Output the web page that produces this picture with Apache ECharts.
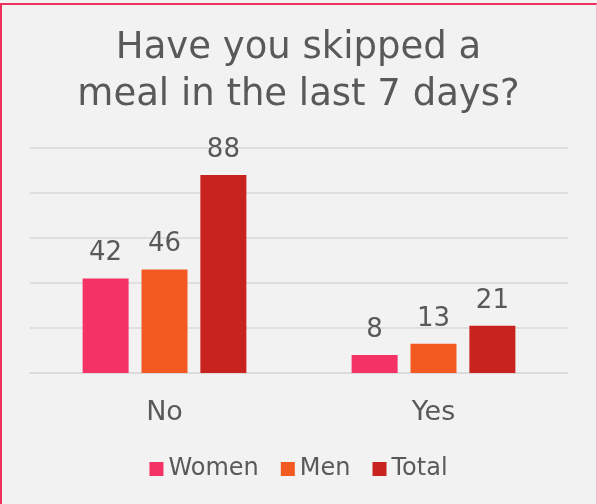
<!DOCTYPE html>
<html>
<head>
<meta charset="utf-8">
<script src="https://cdn.jsdelivr.net/npm/echarts@6/dist/echarts.min.js"></script>
<style>
  html, body { margin: 0; padding: 0; background: #f2f2f2; }
  #frame {
    position: absolute; left: 0; top: 3px; width: 597px; height: 501px;
    border-top: 2px solid #f0305e; border-left: 2px solid #f0305e;
    border-right: 1px solid #f3b8cc; box-sizing: border-box;
  }
  #chart { position: absolute; left: 0; top: 0; width: 597px; height: 504px; }
</style>
</head>
<body>
<div id="frame"></div>
<div id="chart"></div>
<script>
const categories = ['No', 'Yes']
const women = [42, 8]
const men = [46, 13]
const total = [88, 21]

const font = '"DejaVu Sans", sans-serif'
const textColor = '#595959'

const chart = echarts.init(document.getElementById('chart'))

function bar(name, data, color) {
  return {
    name,
    type: 'bar',
    data,
    barWidth: 46,
    barGap: '28%',
    itemStyle: { color },
    label: {
      show: true,
      position: 'top',
      distance: 12,
      color: textColor,
      fontFamily: font,
      fontSize: 26,
    },
  }
}

chart.setOption({
  backgroundColor: 'transparent',
  animation: false,
  title: {
    text: 'Have you skipped a\nmeal in the last 7 days?',
    left: 'center',
    top: 20,
    textStyle: {
      color: textColor,
      fontFamily: font,
      fontWeight: 'normal',
      fontSize: 37,
      lineHeight: 47,
    },
  },
  legend: {
    top: 452,
    left: 'center',
    itemWidth: 14,
    itemHeight: 14,
    itemGap: 22,
    icon: 'rect',
    textStyle: { color: textColor, fontFamily: font, fontSize: 24 },
  },
  grid: { left: 30, right: 29, top: 148, height: 225, containLabel: false },
  xAxis: {
    type: 'category',
    data: categories,
    axisLine: { lineStyle: { color: '#d9d9d9', width: 1.5 } },
    axisTick: { show: false },
    axisLabel: { color: textColor, fontFamily: font, fontSize: 27, margin: 26 },
  },
  yAxis: {
    type: 'value',
    min: 0,
    max: 100,
    interval: 20,
    axisLabel: { show: false },
    axisLine: { show: false },
    axisTick: { show: false },
    splitLine: { lineStyle: { color: '#d9d9d9', width: 1.5 } },
  },
  series: [
    bar('Women', women, '#f43265'),
    bar('Men', men, '#f25a22'),
    bar('Total', total, '#c8231e'),
  ],
})
</script>
</body>
</html>
